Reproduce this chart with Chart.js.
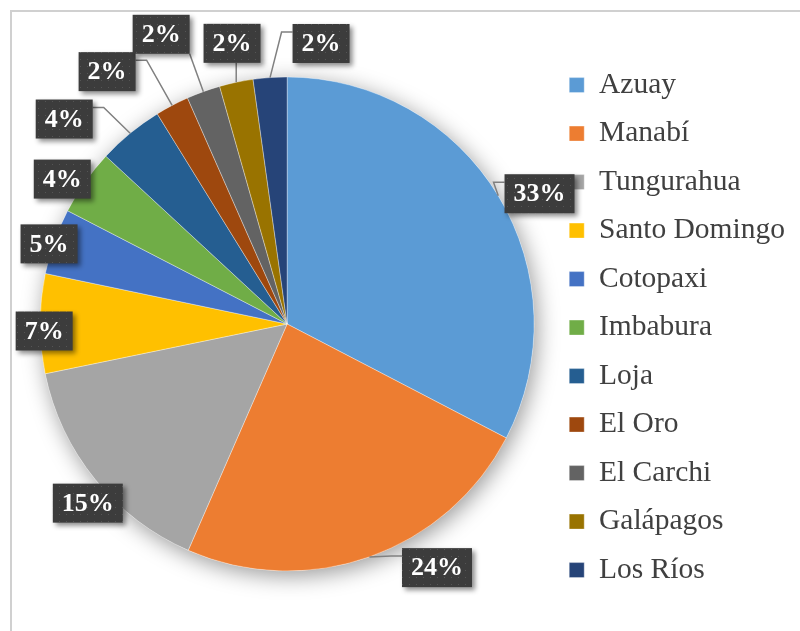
<!DOCTYPE html>
<html>
<head>
<meta charset="utf-8">
<script src="https://cdn.jsdelivr.net/npm/chart.js@4.4.1/dist/chart.umd.min.js"></script>
<style>
  html, body { margin: 0; padding: 0; background: #fff; overflow: hidden; }
  #frame { position: absolute; left: 10px; top: 10px; width: 820px; height: 660px; border: 2px solid #d0d0d0; box-sizing: border-box; }
  #chart { position: absolute; left: 0; top: 0; }
</style>
</head>
<body>
<div id="frame"></div>
<canvas id="chart" width="800" height="631"></canvas>
<script>
const provincias = ['Azuay', 'Manabí', 'Tungurahua', 'Santo Domingo', 'Cotopaxi', 'Imbabura', 'Loja', 'El Oro', 'El Carchi', 'Galápagos', 'Los Ríos'];
const porcentajes = [32.6, 23.9, 15.2, 6.5, 4.3, 4.3, 4.3, 2.2, 2.2, 2.2, 2.2];
const etiquetas = ['33%', '24%', '15%', '7%', '5%', '4%', '4%', '2%', '2%', '2%', '2%'];
const colores = ['#5B9BD5', '#ED7D31', '#A5A5A5', '#FFC000', '#4472C4', '#70AD47', '#255E91', '#9E480E', '#636363', '#997300', '#264478'];

// donde va cada etiqueta: angulo (grados desde arriba, horario), distancia en radios, linea guia
const posEtiquetas = [
  [62.7, 1.15, true], [148.4, 1.158, true], [228.05, 1.085, false], [268.35, 0.984, false],
  [288.6, 1.017, false], [302.8, 1.083, false], [312.6, 1.226, true], [324.5, 1.255, true],
  [336.5, 1.279, true], [348.9, 1.158, true], [6.9, 1.144, true]
];

const fuente = '"Liberation Serif", "Times New Roman", serif';

function crearPatron(ctx) {
  const c = document.createElement('canvas');
  c.width = 7; c.height = 7;
  const p = c.getContext('2d');
  p.fillStyle = '#3c3c3c';
  p.fillRect(0, 0, 7, 7);
  p.fillStyle = '#555555';
  p.fillRect(3, 3, 1, 1);
  return ctx.createPattern(c, 'repeat');
}

const etiquetasPlugin = {
  id: 'etiquetas',
  beforeDatasetsDraw(chart) {
    // sombra suave bajo el pastel
    const arc = chart.getDatasetMeta(0).data[0];
    if (!arc) return;
    const ctx = chart.ctx;
    ctx.save();
    ctx.shadowColor = 'rgba(0,0,0,0.4)';
    ctx.shadowBlur = 22;
    ctx.shadowOffsetX = 3;
    ctx.shadowOffsetY = 5;
    ctx.fillStyle = '#fff';
    ctx.beginPath();
    ctx.arc(arc.x, arc.y, arc.outerRadius, 0, Math.PI * 2);
    ctx.fill();
    ctx.restore();
  },
  afterDatasetsDraw(chart) {
    const ctx = chart.ctx;
    const arcs = chart.getDatasetMeta(0).data;
    const patron = crearPatron(ctx);
    ctx.save();
    ctx.font = 'bold 26px ' + fuente;
    const cajas = arcs.map((arc, i) => {
      const [ang, dist] = posEtiquetas[i];
      const a = ang * Math.PI / 180;
      const cx = arc.x + Math.sin(a) * arc.outerRadius * dist;
      const cy = arc.y - Math.cos(a) * arc.outerRadius * dist;
      const w = ctx.measureText(etiquetas[i]).width + 18;
      const h = 39;
      return { cx, cy, l: cx - w / 2, r: cx + w / 2, t: cy - h / 2, b: cy + h / 2, w, h };
    });

    // lineas guia
    ctx.strokeStyle = '#808080';
    ctx.lineWidth = 1.5;
    arcs.forEach((arc, i) => {
      if (!posEtiquetas[i][2]) return;
      const b = cajas[i];
      const mid = (arc.startAngle + arc.endAngle) / 2;
      const ex = arc.x + Math.cos(mid) * arc.outerRadius;
      const ey = arc.y + Math.sin(mid) * arc.outerRadius;
      const pts = [[ex, ey]];
      if (ex >= b.l && ex <= b.r) {
        pts.push([ex, ey > b.b ? b.b : b.t]);
      } else if (ey > b.b && Math.min(Math.abs(ex - b.l), Math.abs(ex - b.r)) < 20) {
        pts.push([ex > b.r ? b.r : b.l, b.b]);
      } else {
        const lado = ex < b.l ? b.l : b.r;
        const cola = ex < b.l ? -11 : 11;
        pts.push([lado + cola, b.t + 8], [lado, b.t + 8]);
      }
      ctx.beginPath();
      ctx.moveTo(pts[0][0], pts[0][1]);
      pts.slice(1).forEach(p => ctx.lineTo(p[0], p[1]));
      ctx.stroke();
    });

    // cajas con texto
    cajas.forEach((b, i) => {
      ctx.save();
      ctx.shadowColor = 'rgba(0,0,0,0.45)';
      ctx.shadowBlur = 5;
      ctx.shadowOffsetX = 3;
      ctx.shadowOffsetY = 3;
      ctx.fillStyle = patron;
      ctx.fillRect(b.l, b.t, b.w, b.h);
      ctx.restore();
      ctx.fillStyle = '#fff';
      ctx.textAlign = 'center';
      ctx.textBaseline = 'middle';
      ctx.fillText(etiquetas[i], b.cx, b.cy + 1);
    });
    ctx.restore();
  }
};

new Chart(document.getElementById('chart'), {
  type: 'pie',
  data: {
    labels: provincias,
    datasets: [{
      data: porcentajes,
      backgroundColor: colores,
      borderColor: 'rgba(255,255,255,0.35)',
      borderWidth: 1
    }]
  },
  options: {
    responsive: false,
    animation: false,
    radius: 247,
    layout: { padding: { left: 24, right: 5, top: 30, bottom: 13 } },
    plugins: {
      legend: {
        position: 'right',
        title: { display: true, text: '', padding: 0, font: { size: 6 } },
        labels: {
          boxWidth: 15,
          boxHeight: 15,
          padding: 19,
          color: '#404040',
          font: { family: fuente, size: 29.5 }
        }
      },
      tooltip: { enabled: false }
    }
  },
  plugins: [etiquetasPlugin]
});
</script>
</body>
</html>
